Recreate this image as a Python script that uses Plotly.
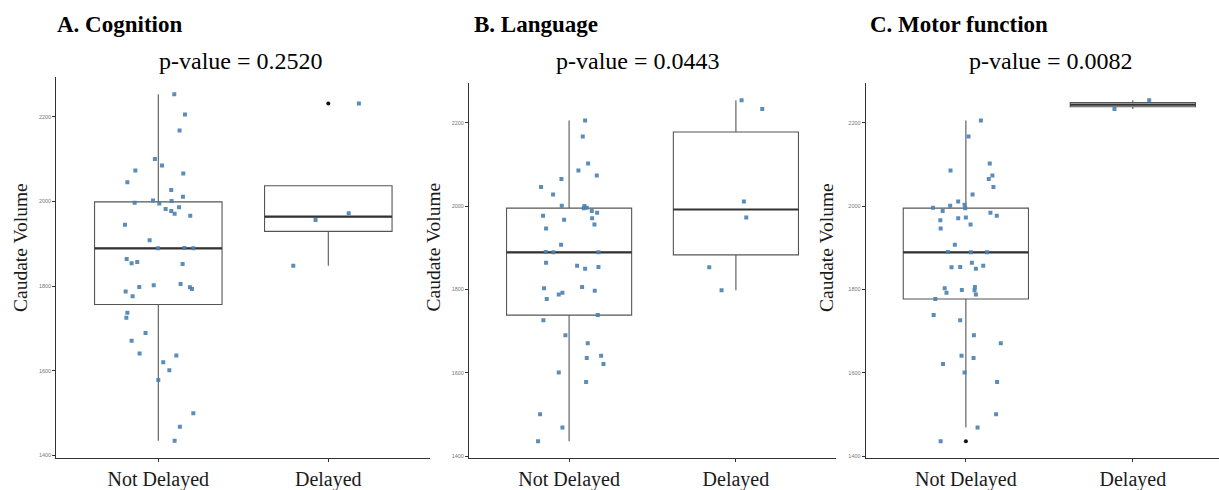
import numpy as np
import plotly.graph_objects as go

# ---------------- data ----------------
categories = ["Not Delayed", "Delayed"]
panel_titles = ["A. Cognition", "B. Language", "C. Motor function"]
p_values = ["0.2520", "0.0443", "0.0082"]
y_ticks = [1400, 1600, 1800, 2000, 2200]

# A. Cognition
cog_not = [2252.6, 2204.7, 2167, 2100, 2084.5, 2072.7, 2065.6, 2045.2, 2027, 2010.6,
           2002, 1995, 2001, 1996.5, 1986, 1982, 1977, 1970.5, 1966, 1945,
           1908, 1889, 1890, 1889, 1864, 1854, 1857, 1852, 1802, 1798,
           1805, 1797, 1793, 1787, 1776, 1737, 1725, 1689, 1671, 1641,
           1636, 1620, 1601, 1578, 1500, 1468, 1435]
cog_not_jit = [0.094, 0.157, 0.125, -0.020, 0.022, -0.135, 0.147, -0.182, 0.076, 0.145,
               -0.031, 0.006, 0.078, -0.139, 0.122, 0.043, 0.076, 0.096, 0.188, -0.196,
               -0.051, -0.002, 0.153, 0.206, -0.186, -0.157, -0.124, 0.143, -0.027, -0.112,
               0.131, 0.186, 0.198, -0.192, -0.151, -0.182, -0.188, -0.075, -0.157, -0.110,
               0.106, 0.029, 0.065, 0.000, 0.206, 0.127, 0.096]
cog_del = [2231, 1972, 1956, 1848]
cog_del_jit = [0.180, 0.120, -0.075, -0.206]

# B. Language
lang_not = [2205, 2167, 2102, 2085, 2073, 2065, 2046, 2028, 2001, 2000,
            1996, 1995, 1988, 1984, 1977, 1971, 1967, 1956, 1946, 1907,
            1890, 1889, 1889, 1864, 1857, 1854, 1849.5, 1806, 1803, 1797,
            1792, 1788, 1777, 1738.5, 1726, 1690, 1671, 1641, 1635.5, 1621,
            1601, 1578, 1500.6, 1469, 1436]
lang_not_jit = [0.096, 0.082, 0.114, 0.056, 0.166, -0.046, -0.168, -0.096, -0.044, 0.092,
                0.106, 0.088, 0.136, 0.168, -0.156, 0.138, -0.030, 0.152, -0.138, -0.048,
                -0.140, -0.094, 0.176, -0.138, 0.048, 0.176, 0.096, 0.078, -0.150, 0.154,
                -0.040, -0.062, -0.134, 0.172, -0.154, -0.022, 0.112, 0.192, 0.106, 0.206,
                -0.062, 0.102, -0.174, -0.040, -0.186]
lang_del = [2253.5, 2233, 2011, 1972.5, 1853, 1798]
lang_del_jit = [0.034, 0.158, 0.048, 0.062, -0.160, -0.086]

# C. Motor function
mot_not = [2205, 2167, 2102, 2085, 2073, 2065, 2046, 2028, 2011, 2001,
           2003, 1996, 1995, 1988, 1984, 1977, 1971, 1972.5, 1966, 1956,
           1946, 1907, 1890, 1889, 1889, 1864, 1857, 1854, 1853, 1849.5,
           1803, 1806, 1799, 1798, 1792, 1788, 1777, 1738.5, 1726, 1690,
           1671, 1641, 1635.5, 1621, 1601, 1578, 1500.6, 1469, 1436]
mot_not_jit = [0.090, 0.016, 0.143, -0.092, 0.159, 0.137, 0.165, 0.040, -0.046, -0.094,
               -0.008, -0.197, -0.004, -0.139, 0.147, 0.185, -0.046, 0.000, -0.153, 0.028,
               -0.151, -0.066, -0.108, 0.030, 0.127, 0.036, 0.104, -0.034, -0.086, 0.060,
               -0.127, 0.054, -0.024, 0.052, -0.116, 0.060, -0.183, -0.193, -0.034, 0.048,
               0.209, -0.026, 0.046, -0.137, -0.008, 0.187, 0.181, 0.070, -0.151]
mot_del = [2253.5, 2233]
mot_del_jit = [0.098, -0.110]

panels = [
    [(cog_not, cog_not_jit), (cog_del, cog_del_jit)],
    [(lang_not, lang_not_jit), (lang_del, lang_del_jit)],
    [(mot_not, mot_not_jit), (mot_del, mot_del_jit)],
]

# ---------------- style / layout ----------------
W, H = 1219, 490
BOX_W = 0.75
POINT_COLOR = "#4A7FB0"
BOX_LINE = "#555555"
SERIF = "Liberation Serif, Times New Roman, serif"
SANS = "Liberation Sans, Arial, sans-serif"

# pixel geometry of each panel: (x_left, x_right_full, y_top, y_bottom)
geom = [(56.3, 430.3, 77.0, 458.0),
        (469.0, 836.0, 83.3, 458.3),
        (865.7, 1233.0, 83.3, 458.3)]
title_x = [55, 471.5, 868]
pval_x = [241, 637.5, 1050.5]
ytitle_x = [20.5, 433, 826.5]

fig = go.Figure()
layout = dict(width=W, height=H, margin=dict(l=0, r=0, t=0, b=0),
              paper_bgcolor="white", plot_bgcolor="white", showlegend=False)
annotations = []

for i, groups in enumerate(panels):
    xa = "x" if i == 0 else f"x{i+1}"
    ya = "y" if i == 0 else f"y{i+1}"
    xl, xr, yt, yb = geom[i]
    # x range: ggplot discrete expansion 0.6 -> [0.4, 2.6], clip at figure edge
    xr_vis = min(xr, W)
    x_hi = 0.4 + 2.2 * (xr_vis - xl) / (xr - xl)
    allv = np.concatenate([np.array(g[0], float) for g in groups])
    lo, hi = allv.min(), allv.max()
    pad = 0.05 * (hi - lo)

    for k, (vals, jit) in enumerate(groups):
        pos = k + 1
        v = np.array(vals, float)
        q1, med, q3 = np.percentile(v, [25, 50, 75])
        iqr = q3 - q1
        inside = v[(v >= q1 - 1.5 * iqr) & (v <= q3 + 1.5 * iqr)]
        lf, uf = inside.min(), inside.max()
        outl = v[(v < q1 - 1.5 * iqr) | (v > q3 + 1.5 * iqr)]
        fig.add_trace(go.Box(x=[pos], q1=[q1], median=[med], q3=[q3],
                             lowerfence=[lf], upperfence=[uf], width=BOX_W,
                             whiskerwidth=0, boxpoints=False,
                             fillcolor="white", line=dict(color=BOX_LINE, width=1.1),
                             xaxis=xa, yaxis=ya, hoverinfo="skip"))
        fig.add_trace(go.Scatter(x=[pos - BOX_W / 2, pos + BOX_W / 2], y=[med, med],
                                 mode="lines", line=dict(color="#333333", width=2.2),
                                 xaxis=xa, yaxis=ya, hoverinfo="skip"))
        if len(outl):
            fig.add_trace(go.Scatter(x=[pos] * len(outl), y=outl, mode="markers",
                                     marker=dict(color="#111111", size=4),
                                     xaxis=xa, yaxis=ya, hoverinfo="skip"))
        fig.add_trace(go.Scatter(x=pos + np.array(jit), y=v, mode="markers",
                                 marker=dict(color=POINT_COLOR, size=4, symbol="square",
                                             opacity=0.9),
                                 xaxis=xa, yaxis=ya, hoverinfo="skip"))

    layout["xaxis" if i == 0 else f"xaxis{i+1}"] = dict(
        domain=[xl / W, xr_vis / W], range=[0.4, x_hi], anchor=ya,
        tickmode="array", tickvals=[1, 2], ticktext=categories,
        showline=True, linecolor="#333333", linewidth=1, showgrid=False, zeroline=False,
        ticks="outside", ticklen=3, tickcolor="#333333",
        tickfont=dict(family=SERIF, size=20, color="#1a1a1a"))
    layout["yaxis" if i == 0 else f"yaxis{i+1}"] = dict(
        domain=[(H - yb) / H, (H - yt) / H], range=[lo - pad, hi + pad], anchor=xa,
        tickmode="array", tickvals=y_ticks,
        showline=True, linecolor="#333333", linewidth=1, showgrid=False, zeroline=False,
        ticks="outside", ticklen=3, tickcolor="#333333",
        tickfont=dict(family=SANS, size=5.5, color="#777777"))

    annotations.append(dict(text=f"<b>{panel_titles[i]}</b>", x=title_x[i] / W, y=(H - 24) / H,
                            xref="paper", yref="paper", xanchor="left", yanchor="middle",
                            showarrow=False, font=dict(family=SERIF, size=23, color="black")))
    annotations.append(dict(text=f"p-value = {p_values[i]}", x=pval_x[i] / W, y=(H - 61.5) / H,
                            xref="paper", yref="paper", xanchor="center", yanchor="middle",
                            showarrow=False, font=dict(family=SERIF, size=24, color="black")))
    annotations.append(dict(text="Caudate Volume", x=ytitle_x[i] / W, y=(H - 247.5) / H,
                            xref="paper", yref="paper", xanchor="center", yanchor="middle",
                            textangle=-90, showarrow=False,
                            font=dict(family=SERIF, size=19.5, color="#1a1a1a")))

layout["annotations"] = annotations
fig.update_layout(**layout)
fig.write_html("out.html", config={"displayModeBar": False},
               post_script="document.body.style.margin='0';document.body.style.overflow='hidden';")
